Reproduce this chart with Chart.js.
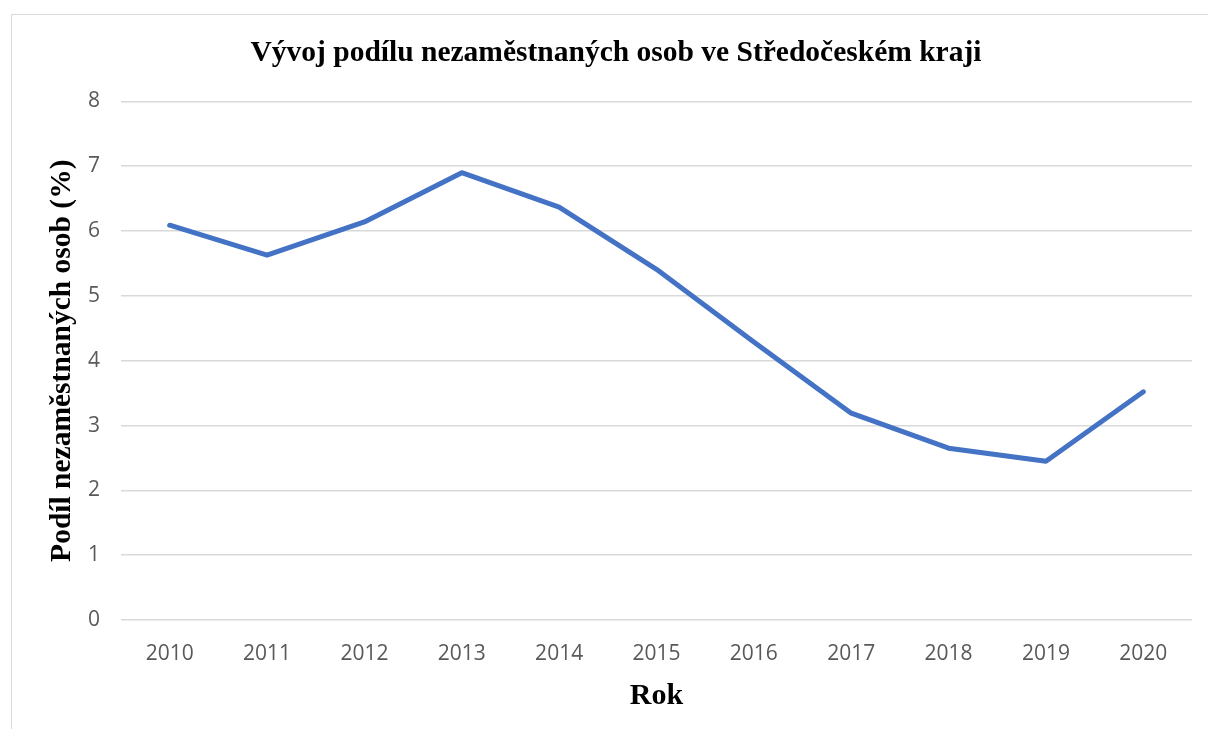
<!DOCTYPE html>
<html>
<head>
<meta charset="utf-8">
<script src="https://cdn.jsdelivr.net/npm/chart.js@4.4.0/dist/chart.umd.min.js"></script>
<style>
  html, body { margin: 0; padding: 0; background: #fff; }
  #frame { position: absolute; left: 11px; top: 14px; width: 1210px; height: 730px; border-left: 1px solid #d9d9d9; border-top: 1px solid #d9d9d9; }
  #wrap { position: absolute; left: 0; top: 0; width: 1208px; height: 729px; }
</style>
</head>
<body>
<div id="frame"></div>
<div id="wrap"><canvas id="myChart"></canvas></div>
<script>
// data
const roky = ['2010', '2011', '2012', '2013', '2014', '2015', '2016', '2017', '2018', '2019', '2020']
const podil = [6.09, 5.63, 6.14, 6.90, 6.37, 5.41, 4.29, 3.19, 2.65, 2.45, 3.52]
const yTicks = [0, 1, 2, 3, 4, 5, 6, 7, 8]

const nadpis = 'Vývoj podílu nezaměstnaných osob ve Středočeském kraji'
const osaX = 'Rok'
const osaY = 'Podíl nezaměstnaných osob (%)'

const ctx = document.getElementById('myChart')

new Chart(ctx, {
    type: 'line',
    data: {
        labels: roky,
        datasets: [{
            data: podil,
            borderColor: '#4472C4',
            borderWidth: 5,
            pointRadius: 0,
            tension: 0,
            borderCapStyle: 'round',
            borderJoinStyle: 'round'
        }]
    },
    options: {
        responsive: true,
        maintainAspectRatio: false,
        animation: false,
        layout: { padding: { left: 40, right: 16, top: 0, bottom: 0 } },
        plugins: {
            legend: { display: false },
            tooltip: { enabled: false },
            title: {
                display: true,
                text: nadpis,
                color: '#000',
                font: { family: 'Liberation Serif', size: 29.5, weight: 'bold' },
                padding: { top: 36, bottom: 30 }
            }
        },
        scales: {
            x: {
                offset: true,
                grid: { display: false },
                border: { display: false },
                ticks: {
                    color: '#595959',
                    font: { family: 'Open Sans', size: 21 },
                    padding: 13,
                    maxRotation: 0
                },
                title: {
                    display: true,
                    text: osaX,
                    color: '#000',
                    font: { family: 'Liberation Serif', size: 30, weight: 'bold' },
                    padding: { top: 15, bottom: 15 }
                },
                afterFit: function (scale) { scale.height = 109 }
            },
            y: {
                min: 0,
                max: 8,
                afterBuildTicks: function (scale) {
                    scale.ticks = yTicks.map(v => ({ value: v }))
                },
                grid: { color: '#d9d9d9', lineWidth: 1.5, drawTicks: false },
                border: { display: false },
                ticks: {
                    color: '#595959',
                    font: { family: 'Open Sans', size: 21 },
                    padding: 21
                },
                title: {
                    display: true,
                    text: osaY,
                    color: '#000',
                    font: { family: 'Liberation Serif', size: 29.5, weight: 'bold' },
                    padding: { top: 5, bottom: 5 }
                },
                afterFit: function (scale) { scale.width = 81 }
            }
        }
    }
})
</script>
</body>
</html>
